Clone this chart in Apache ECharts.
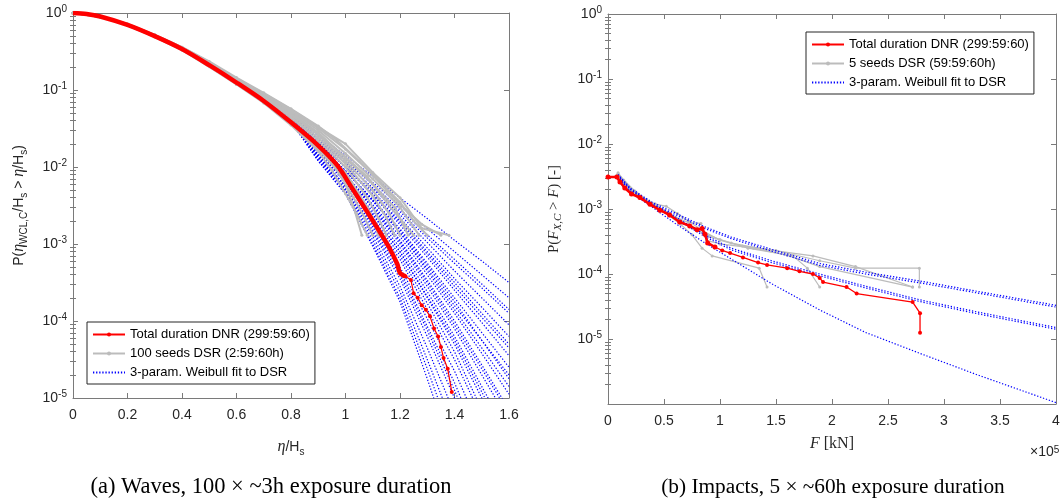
<!DOCTYPE html>
<html><head><meta charset="utf-8">
<script src="https://cdn.jsdelivr.net/npm/echarts@6/dist/echarts.min.js"></script>
<style>html,body{margin:0;padding:0;background:#fff}#c{width:1064px;height:500px}</style>
</head><body><div id="c"></div>
<script>
// ---------- (a) Waves ----------
const waveRed = [[0,1],[0.05,0.97],[0.1,0.9],[0.2,0.7],[0.3,0.5],[0.4,0.34],[0.5,0.21],[0.6,0.125],[0.7,0.072],[0.8,0.038],[0.9,0.019],[0.97,0.0105],[1.02,0.0056],[1.08,0.0026],[1.12,0.00155],[1.16,0.0009],[1.19,0.00055],[1.2,0.00042],[1.22,0.00038],[1.24,0.00034],[1.25,0.00023],[1.265,0.0002],[1.28,0.00016],[1.295,0.00014],[1.31,0.000115],[1.325,0.00008],[1.34,0.000063],[1.35,0.000046],[1.36,0.000033],[1.375,0.000024],[1.39,0.000012]];
const waveRedSplitEta = 1.22;
const waveSeeds = [
 [[0,1],[0.1,0.89],[0.2,0.69],[0.3,0.49],[0.4,0.33],[0.5,0.2],[0.6,0.118],[0.7,0.068],[0.8,0.035],[0.9,0.016],[0.95,0.009],[1.0,0.0045],[1.04,0.0025],[1.08,0.0013]],
 [[0,1],[0.1,0.9],[0.2,0.71],[0.3,0.51],[0.4,0.345],[0.5,0.215],[0.6,0.128],[0.7,0.075],[0.8,0.04],[0.9,0.018],[0.98,0.008],[1.03,0.004],[1.07,0.0022],[1.1,0.0013]],
 [[0,1],[0.1,0.9],[0.2,0.7],[0.3,0.5],[0.4,0.34],[0.5,0.21],[0.6,0.124],[0.7,0.073],[0.8,0.039],[0.9,0.02],[1.0,0.0085],[1.05,0.0045],[1.1,0.0022],[1.12,0.0013]],
 [[0,1],[0.1,0.91],[0.2,0.72],[0.3,0.52],[0.4,0.355],[0.5,0.225],[0.6,0.135],[0.7,0.08],[0.8,0.044],[0.9,0.022],[1.0,0.01],[1.08,0.004],[1.12,0.0022],[1.15,0.0013]],
 [[0,1],[0.1,0.9],[0.2,0.7],[0.3,0.505],[0.4,0.345],[0.5,0.22],[0.6,0.132],[0.7,0.08],[0.8,0.045],[0.9,0.024],[1.0,0.011],[1.1,0.0042],[1.15,0.0022],[1.18,0.0013]],
 [[0,1],[0.1,0.89],[0.2,0.69],[0.3,0.49],[0.4,0.335],[0.5,0.212],[0.6,0.128],[0.7,0.079],[0.8,0.047],[0.9,0.026],[1.0,0.012],[1.1,0.005],[1.16,0.0025],[1.2,0.0013]],
 [[0,1],[0.1,0.91],[0.2,0.72],[0.3,0.52],[0.4,0.36],[0.5,0.23],[0.6,0.14],[0.7,0.086],[0.8,0.05],[0.9,0.028],[1.0,0.013],[1.1,0.006],[1.18,0.003],[1.23,0.0013]],
 [[0,1],[0.1,0.9],[0.2,0.71],[0.3,0.51],[0.4,0.35],[0.5,0.225],[0.6,0.138],[0.7,0.087],[0.8,0.052],[0.9,0.03],[1.0,0.015],[1.1,0.007],[1.2,0.003],[1.27,0.0013]],
 [[0,1],[0.1,0.9],[0.2,0.7],[0.3,0.5],[0.4,0.345],[0.5,0.22],[0.6,0.135],[0.7,0.085],[0.8,0.053],[0.9,0.032],[1.0,0.017],[1.1,0.008],[1.2,0.0035],[1.25,0.002],[1.3,0.0013]],
 [[0,1],[0.1,0.91],[0.2,0.72],[0.3,0.52],[0.4,0.36],[0.5,0.235],[0.6,0.145],[0.7,0.092],[0.8,0.057],[0.9,0.034],[0.97,0.022],[1.05,0.012],[1.15,0.005],[1.22,0.0028],[1.28,0.0018],[1.35,0.0013]],
 [[0,1],[0.1,0.9],[0.2,0.71],[0.3,0.51],[0.4,0.35],[0.5,0.225],[0.6,0.14],[0.7,0.09],[0.8,0.056],[0.9,0.033],[1.0,0.02],[1.1,0.0085],[1.2,0.004],[1.28,0.0016],[1.38,0.0013]],
 [[0,1],[0.1,0.89],[0.2,0.69],[0.3,0.49],[0.4,0.33],[0.5,0.205],[0.6,0.12],[0.7,0.07],[0.8,0.037],[0.9,0.017],[0.96,0.01],[1.0,0.006],[1.03,0.003],[1.06,0.0013]],
 [[0,1],[0.1,0.9],[0.2,0.7],[0.3,0.5],[0.4,0.34],[0.5,0.213],[0.6,0.127],[0.7,0.076],[0.8,0.041],[0.88,0.022],[0.95,0.013],[1.02,0.0065],[1.08,0.003],[1.13,0.0013]],
 [[0,1],[0.1,0.9],[0.2,0.71],[0.3,0.51],[0.4,0.35],[0.5,0.222],[0.6,0.134],[0.7,0.083],[0.8,0.048],[0.9,0.027],[1.0,0.0135],[1.08,0.0075],[1.15,0.0035],[1.25,0.0013]]
];
const waveFitEta = [0.43, 0.6, 0.8, 0.9, 1.0, 1.1, 1.2, 1.3, 1.4, 1.5, 1.6];
const waveFitP = [
 [0.29,0.13,0.05,0.0257,0.0141,0.00759,0.00398,0.00214,0.00112,6.03e-4,3.16e-4],
 [0.29,0.13,0.0482,0.024,0.0126,0.00631,0.00316,0.00158,7.94e-4,3.98e-4,2.0e-4],
 [0.29,0.129,0.0474,0.0224,0.0112,0.00537,0.00263,0.0012,5.62e-4,2.69e-4,1.26e-4],
 [0.29,0.129,0.0465,0.0224,0.0112,0.00525,0.0024,0.00105,4.47e-4,2.0e-4,8.91e-5],
 [0.29,0.128,0.0465,0.0209,0.01,0.00479,0.00219,8.91e-4,3.55e-4,1.51e-4,6.31e-5],
 [0.29,0.128,0.0456,0.0209,0.01,0.00447,0.002,7.94e-4,3.16e-4,1.26e-4,5.01e-5],
 [0.29,0.127,0.0456,0.0204,0.01,0.00427,0.00178,6.76e-4,2.51e-4,9.55e-5,3.55e-5],
 [0.29,0.127,0.0448,0.0195,0.00891,0.0038,0.00158,5.62e-4,2.0e-4,7.08e-5,2.51e-5],
 [0.29,0.127,0.0448,0.0191,0.00891,0.00363,0.00141,4.79e-4,1.58e-4,5.62e-5,2.0e-5],
 [0.29,0.126,0.0441,0.0191,0.00891,0.00363,0.00141,4.47e-4,1.41e-4,4.47e-5,1.41e-5],
 [0.29,0.126,0.0441,0.0178,0.00794,0.00324,0.00126,3.98e-4,1.26e-4,3.8e-5,1.12e-5],
 [0.29,0.126,0.0433,0.0178,0.00794,0.00309,0.00112,3.39e-4,1.0e-4,2.69e-5,7.08e-6],
 [0.29,0.125,0.0433,0.0178,0.00794,0.00288,0.001,2.82e-4,7.94e-5,2.0e-5,5.01e-6],
 [0.29,0.125,0.0426,0.0166,0.00708,0.00263,8.91e-4,2.4e-4,6.31e-5,1.41e-5,3.16e-6],
 [0.29,0.125,0.0426,0.0166,0.00708,0.00245,7.94e-4,2.0e-4,5.01e-5,1.0e-5,2.0e-6],
 [0.29,0.124,0.0418,0.0155,0.00631,0.00219,7.08e-4,1.7e-4,3.98e-5,7.08e-6,1.26e-6],
 [0.29,0.124,0.0418,0.0155,0.00631,0.00204,6.31e-4,1.41e-4,3.16e-5,5.62e-6,1.0e-6],
 [0.29,0.124,0.0411,0.0145,0.00562,0.00178,5.01e-4,1.07e-4,2.24e-5,3.55e-6,6.31e-7],
 [0.29,0.123,0.0411,0.0145,0.00562,0.00166,4.47e-4,8.51e-5,1.58e-5,2.24e-6,3.16e-7],
 [0.29,0.123,0.0404,0.0135,0.00501,0.00141,3.55e-4,6.31e-5,1.0e-5,1.26e-6,1.58e-7],
 [0.29,0.123,0.0397,0.0132,0.00501,0.00126,2.82e-4,4.47e-5,6.31e-6,7.94e-7,1.0e-7],
 [0.29,0.122,0.0397,0.0126,0.00479,0.00112,2.4e-4,3.16e-5,3.98e-6,3.98e-7,3.98e-8],
 [0.29,0.122,0.039,0.012,0.00447,0.001,2.0e-4,2.4e-5,2.51e-6,2.0e-7,1.58e-8],
 [0.29,0.122,0.039,0.012,0.00447,9.33e-4,1.78e-4,1.78e-5,1.58e-6,1.26e-7,1.0e-8],
 [0.29,0.129,0.0474,0.0234,0.012,0.00589,0.00282,0.00132,6.31e-4,3.02e-4,1.41e-4],
 [0.29,0.128,0.0456,0.0204,0.01,0.00437,0.00191,7.41e-4,2.82e-4,1.12e-4,4.47e-5],
 [0.29,0.127,0.0448,0.0195,0.00891,0.00372,0.00151,5.25e-4,1.78e-4,5.62e-5,1.78e-5],
 [0.29,0.126,0.0433,0.0178,0.00794,0.00295,0.00107,3.16e-4,8.91e-5,2.4e-5,6.31e-6],
 [0.29,0.125,0.0426,0.0162,0.00708,0.0024,7.94e-4,2.09e-4,5.62e-5,1.2e-5,2.51e-6],
 [0.29,0.123,0.0411,0.0138,0.00525,0.00151,3.98e-4,7.59e-5,1.26e-5,1.78e-6,2.51e-7]
];
const waveXTicks = [0, 1.6, 0.2];
const waveYRange = [1e-5, 1];

// ---------- (b) Impacts ----------
const impactRed = [[0,0.0031],[8000,0.0031],[10700,0.0026],[15000,0.0021],[21000,0.0017],[28500,0.0015],[37500,0.00118],[46400,0.00096],[55000,0.00081],[64000,0.00063],[73000,0.00055],[79500,0.00048],[84000,0.0005],[86600,0.00041],[89000,0.0003],[95500,0.00026],[102000,0.00023],[109000,0.00021],[120500,0.00018],[134000,0.00015],[142000,0.000138],[160000,0.000123],[171000,0.00011],[183000,0.0001],[189000,0.000087],[192000,0.000075],[213000,0.000063],[222000,0.00005],[272000,0.000037],[278600,0.000025],[278600,0.0000125]];
const impactRedSplitF = 95500;
const impactSeeds = [
 [[9000,0.0035],[15000,0.0026],[25000,0.0018],[35000,0.00135],[45000,0.001],[55000,0.00078],[65000,0.00058],[75000,0.0004],[84000,0.00025],[93000,0.00019],[135000,0.000123],[142000,0.000063]],
 [[8000,0.0033],[14000,0.0025],[22000,0.0019],[32000,0.00145],[42000,0.0012],[52000,0.0011],[62000,0.00085],[72000,0.00065],[85000,0.00046],[100000,0.00033],[125000,0.00025],[165000,0.00019],[178000,0.000123],[189000,0.000063]],
 [[9000,0.0034],[16000,0.0024],[26000,0.0017],[38000,0.00125],[50000,0.00095],[60000,0.00075],[72000,0.00062],[83000,0.0006],[88000,0.00033],[100000,0.00029],[130000,0.00025],[160000,0.000195],[189000,0.00013],[272000,0.000063]],
 [[7000,0.0032],[12000,0.0027],[20000,0.002],[30000,0.0015],[40000,0.00115],[50000,0.00092],[60000,0.00074],[72000,0.00056],[85000,0.00043],[100000,0.00034],[120000,0.00027],[150000,0.00023],[189000,0.00016],[221000,0.000123],[278000,0.000123],[278000,0.000063]],
 [[9000,0.0036],[14000,0.0028],[24000,0.0019],[34000,0.0014],[44000,0.0011],[54000,0.00088],[64000,0.00068],[76000,0.0005],[90000,0.00038],[110000,0.0003],[140000,0.00024],[183000,0.00019],[221000,0.00013],[272000,0.000063]]
];
const impactFitF = [9000, 20000, 40000, 60000, 86600, 110000, 146000, 189000, 230000, 278600, 330000, 400000];
const impactFitP = [
 [3.4e-3,2.1e-3,1.25e-3,8.7e-4,5.3e-4,3.7e-4,2.4e-4,1.45e-4,1.07e-4,7.8e-5,5.4e-5,3.3e-5],
 [3.3e-3,2.0e-3,1.18e-3,8.2e-4,5.0e-4,3.5e-4,2.25e-4,1.36e-4,1.0e-4,7.3e-5,5.1e-5,3.1e-5],
 [3.3e-3,2.0e-3,1.18e-3,7.6e-4,4.0e-4,2.5e-4,1.6e-4,1.0e-4,6.5e-5,4.0e-5,2.6e-5,1.5e-5],
 [3.1e-3,1.88e-3,1.11e-3,7.1e-4,3.76e-4,2.35e-4,1.5e-4,9.4e-5,6.1e-5,3.76e-5,2.44e-5,1.41e-5],
 [3.2e-3,1.8e-3,1.05e-3,6.0e-4,3.0e-4,1.7e-4,7.1e-5,2.8e-5,1.26e-5,6.0e-6,2.8e-6,1.05e-6]
];
const impactXTicks = [0, 400000, 50000];
const impactYRange = [1e-6, 1];

const NAME_RED = 'Total duration DNR (299:59:60)';
const NAME_GREY_A = '100 seeds DSR (2:59:60h)';
const NAME_GREY_B = '5 seeds DSR (59:59:60h)';
const NAME_BLUE = '3-param. Weibull fit to DSR';
const captionA = '(a) Waves, 100 \u00d7 ~3h exposure duration';
const captionB = '(b) Impacts, 5 \u00d7 ~60h exposure duration';

// ---------- styles ----------
const SANS = '"Liberation Sans", Arial, Helvetica, sans-serif';
const SERIF = '"Liberation Serif", "Times New Roman", serif';
const AX = '#262626';
const BOX = '#7a7a7a';
const RED = '#ff0000', GREY = '#bcbcbc', BLUE = '#0000ff';

function logLabel(v) {
  const e = Math.round(Math.log10(v));
  if (e < -5) return '';
  return '10{sup|' + e + '}';
}
const logLabelStyle = {
  color: AX, fontFamily: SANS, fontSize: 14, lineHeight: 18, margin: 6,
  formatter: logLabel,
  rich: { sup: { fontSize: 10, verticalAlign: 'top', lineHeight: 9, fontFamily: SANS, color: AX } }
};
function boxAxis(extra) {
  return Object.assign({
    axisLine: { show: true, onZero: false, lineStyle: { color: BOX, width: 1 } },
    axisTick: { show: true, inside: true, length: 5, lineStyle: { color: BOX } },
    splitLine: { show: false }
  }, extra);
}
// log-axis minor tick positions (2..9 x 10^k) inside a range
function minorTickValues(range) {
  const out = [];
  for (let e = Math.floor(Math.log10(range[0])); e < Math.round(Math.log10(range[1])); e++) {
    for (let m = 2; m <= 9; m++) { const v = m * Math.pow(10, e); if (v > range[0] && v < range[1]) out.push(v); }
  }
  return out;
}
function minorAxis(gridIndex, range, position) {
  return { gridIndex, type: 'log', logBase: 10, min: range[0], max: range[1], position,
    axisLine: { show: false }, axisLabel: { show: false }, splitLine: { show: false },
    axisTick: { show: true, inside: true, length: 3, customValues: minorTickValues(range), lineStyle: { color: BOX } } };
}

const xAxes = [
  boxAxis({ gridIndex: 0, type: 'value', position: 'bottom', min: waveXTicks[0], max: waveXTicks[1], interval: waveXTicks[2],
    axisLabel: { color: AX, fontFamily: SANS, fontSize: 14, margin: 10 },
    name: '{i|\u03b7}/H{sub|s}', nameLocation: 'middle', nameGap: 39,
    nameTextStyle: { color: AX, fontFamily: SANS, fontSize: 14, lineHeight: 20,
      rich: { i: { fontStyle: 'italic', fontFamily: SERIF, fontSize: 16 }, sub: { fontSize: 10, verticalAlign: 'bottom', lineHeight: 12 } } } }),
  boxAxis({ gridIndex: 0, type: 'value', position: 'top', min: waveXTicks[0], max: waveXTicks[1], interval: waveXTicks[2], axisLabel: { show: false } }),
  boxAxis({ gridIndex: 1, type: 'value', position: 'bottom', min: impactXTicks[0], max: impactXTicks[1], interval: impactXTicks[2],
    axisLabel: { color: AX, fontFamily: SANS, fontSize: 14, margin: 10, formatter: v => String(v / 100000) },
    name: '{i|F} [kN]', nameLocation: 'middle', nameGap: 32,
    nameTextStyle: { color: AX, fontFamily: SERIF, fontSize: 16, rich: { i: { fontStyle: 'italic', fontFamily: SERIF, fontSize: 16 } } } }),
  boxAxis({ gridIndex: 1, type: 'value', position: 'top', min: impactXTicks[0], max: impactXTicks[1], interval: impactXTicks[2], axisLabel: { show: false } })
];
const yAxes = [
  boxAxis({ gridIndex: 0, type: 'log', logBase: 10, min: waveYRange[0], max: waveYRange[1], splitNumber: 5, position: 'left', axisLabel: logLabelStyle,
    name: 'P({i|\u03b7}{sub|WCL,C}/H{sub|s} > {i|\u03b7}/H{sub|s})', nameLocation: 'middle', nameGap: 44,
    nameTextStyle: { color: AX, fontFamily: SANS, fontSize: 14, lineHeight: 20,
      rich: { i: { fontStyle: 'italic', fontFamily: SERIF, fontSize: 16 }, sub: { fontSize: 10, verticalAlign: 'bottom', lineHeight: 12 } } } }),
  boxAxis({ gridIndex: 0, type: 'log', logBase: 10, min: waveYRange[0], max: waveYRange[1], splitNumber: 5, position: 'right', axisLabel: { show: false } }),
  boxAxis({ gridIndex: 1, type: 'log', logBase: 10, min: impactYRange[0], max: impactYRange[1], splitNumber: 6, position: 'left', axisLabel: logLabelStyle,
    name: 'P({i|F}{sub|X,C} > {i|F}) [-]', nameLocation: 'middle', nameGap: 44,
    nameTextStyle: { color: AX, fontFamily: SERIF, fontSize: 15, lineHeight: 20,
      rich: { i: { fontStyle: 'italic', fontFamily: SERIF, fontSize: 15 }, sub: { fontStyle: 'italic', fontFamily: SERIF, fontSize: 11, verticalAlign: 'bottom', lineHeight: 12 } } } }),
  boxAxis({ gridIndex: 1, type: 'log', logBase: 10, min: impactYRange[0], max: impactYRange[1], splitNumber: 6, position: 'right', axisLabel: { show: false } }),
  minorAxis(0, waveYRange, 'left'), minorAxis(0, waveYRange, 'right'),
  minorAxis(1, impactYRange, 'left'), minorAxis(1, impactYRange, 'right')
];

const series = [];
const dotted = { color: BLUE, width: 1.2, type: [1.3, 1.8] };
// left: blue fits (drawn below the grey seeds)
waveFitP.forEach(row => series.push({ type: 'line', name: NAME_BLUE, xAxisIndex: 0, yAxisIndex: 0,
  data: row.map((p, i) => [waveFitEta[i], p]), symbol: 'none',
  lineStyle: dotted, itemStyle: { color: BLUE }, z: 2, silent: true }));
// left: grey seeds
waveSeeds.forEach(s => series.push({ type: 'line', name: NAME_GREY_A, xAxisIndex: 0, yAxisIndex: 0, data: s,
  symbol: 'circle', symbolSize: 3, lineStyle: { color: GREY, width: 2 }, itemStyle: { color: GREY }, z: 3, silent: true }));
// left: red (tail first so legend icon is the thin marked line)
series.push({ type: 'line', name: NAME_RED, xAxisIndex: 0, yAxisIndex: 0, data: waveRed.filter(d => d[0] >= waveRedSplitEta),
  symbol: 'circle', symbolSize: 4, lineStyle: { color: RED, width: 1.2 }, itemStyle: { color: RED }, z: 5, silent: true });
series.push({ type: 'line', name: NAME_RED, xAxisIndex: 0, yAxisIndex: 0, data: waveRed.filter(d => d[0] <= waveRedSplitEta),
  smooth: 0.3, symbol: 'none', lineStyle: { color: RED, width: 4.5 }, itemStyle: { color: RED }, z: 5, silent: true });
// right: grey seeds
impactSeeds.forEach(s => series.push({ type: 'line', name: NAME_GREY_B, xAxisIndex: 2, yAxisIndex: 2, data: s,
  symbol: 'circle', symbolSize: 3, lineStyle: { color: GREY, width: 1.2 }, itemStyle: { color: GREY }, z: 2, silent: true }));
// right: blue fits
impactFitP.forEach(row => series.push({ type: 'line', name: NAME_BLUE, xAxisIndex: 2, yAxisIndex: 2,
  data: row.map((p, i) => [impactFitF[i], p]), symbol: 'none',
  lineStyle: dotted, itemStyle: { color: BLUE }, z: 3, silent: true }));
// right: red (tail first for legend icon, dense head drawn thicker)
series.push({ type: 'line', name: NAME_RED, xAxisIndex: 2, yAxisIndex: 2, data: impactRed.filter(d => d[0] >= impactRedSplitF),
  symbol: 'circle', symbolSize: 4, lineStyle: { color: RED, width: 1.3 }, itemStyle: { color: RED }, z: 5, silent: true });
series.push({ type: 'line', name: NAME_RED, xAxisIndex: 2, yAxisIndex: 2, data: impactRed.filter(d => d[0] <= impactRedSplitF),
  symbol: 'circle', symbolSize: 5, lineStyle: { color: RED, width: 2.6 }, itemStyle: { color: RED }, z: 5, silent: true });

const legendBase = {
  orient: 'vertical', selectedMode: false, itemWidth: 32, itemHeight: 5, itemGap: 6,
  backgroundColor: '#fff', borderColor: '#262626', borderWidth: 1, padding: [6, 5, 5, 5], borderRadius: 0,
  textStyle: { color: '#000', fontFamily: SANS, fontSize: 13, padding: [0, 0, 0, 0] }
};
const legends = [
  Object.assign({}, legendBase, { left: 87, top: 322, data: [NAME_RED, NAME_GREY_A, { name: NAME_BLUE, itemStyle: { opacity: 0 } }] }),
  Object.assign({}, legendBase, { left: 806, top: 32, data: [NAME_RED, NAME_GREY_B, { name: NAME_BLUE, itemStyle: { opacity: 0 } }] })
];

const chart = echarts.init(document.getElementById('c'), null, { renderer: 'canvas' });
chart.setOption({
  animation: false,
  backgroundColor: '#fff',
  grid: [
    { left: 73, top: 13, width: 436, height: 385 },
    { left: 608, top: 14, width: 448, height: 390 }
  ],
  xAxis: xAxes,
  yAxis: yAxes,
  legend: legends,
  series: series,
  graphic: [
    { type: 'text', left: 1030, top: 445, style: { text: '\u00d710{sup|5}', fill: AX, font: '14px ' + SANS,
        rich: { sup: { fontSize: 10, verticalAlign: 'top', lineHeight: 9, fill: AX } } } },
    { type: 'text', x: 271, y: 487, style: { text: captionA, fill: '#000', font: '22.5px ' + SERIF, align: 'center', verticalAlign: 'middle' } },
    { type: 'text', x: 833, y: 487, style: { text: captionB, fill: '#000', font: '21.3px ' + SERIF, align: 'center', verticalAlign: 'middle' } }
  ]
});
</script></body></html>
